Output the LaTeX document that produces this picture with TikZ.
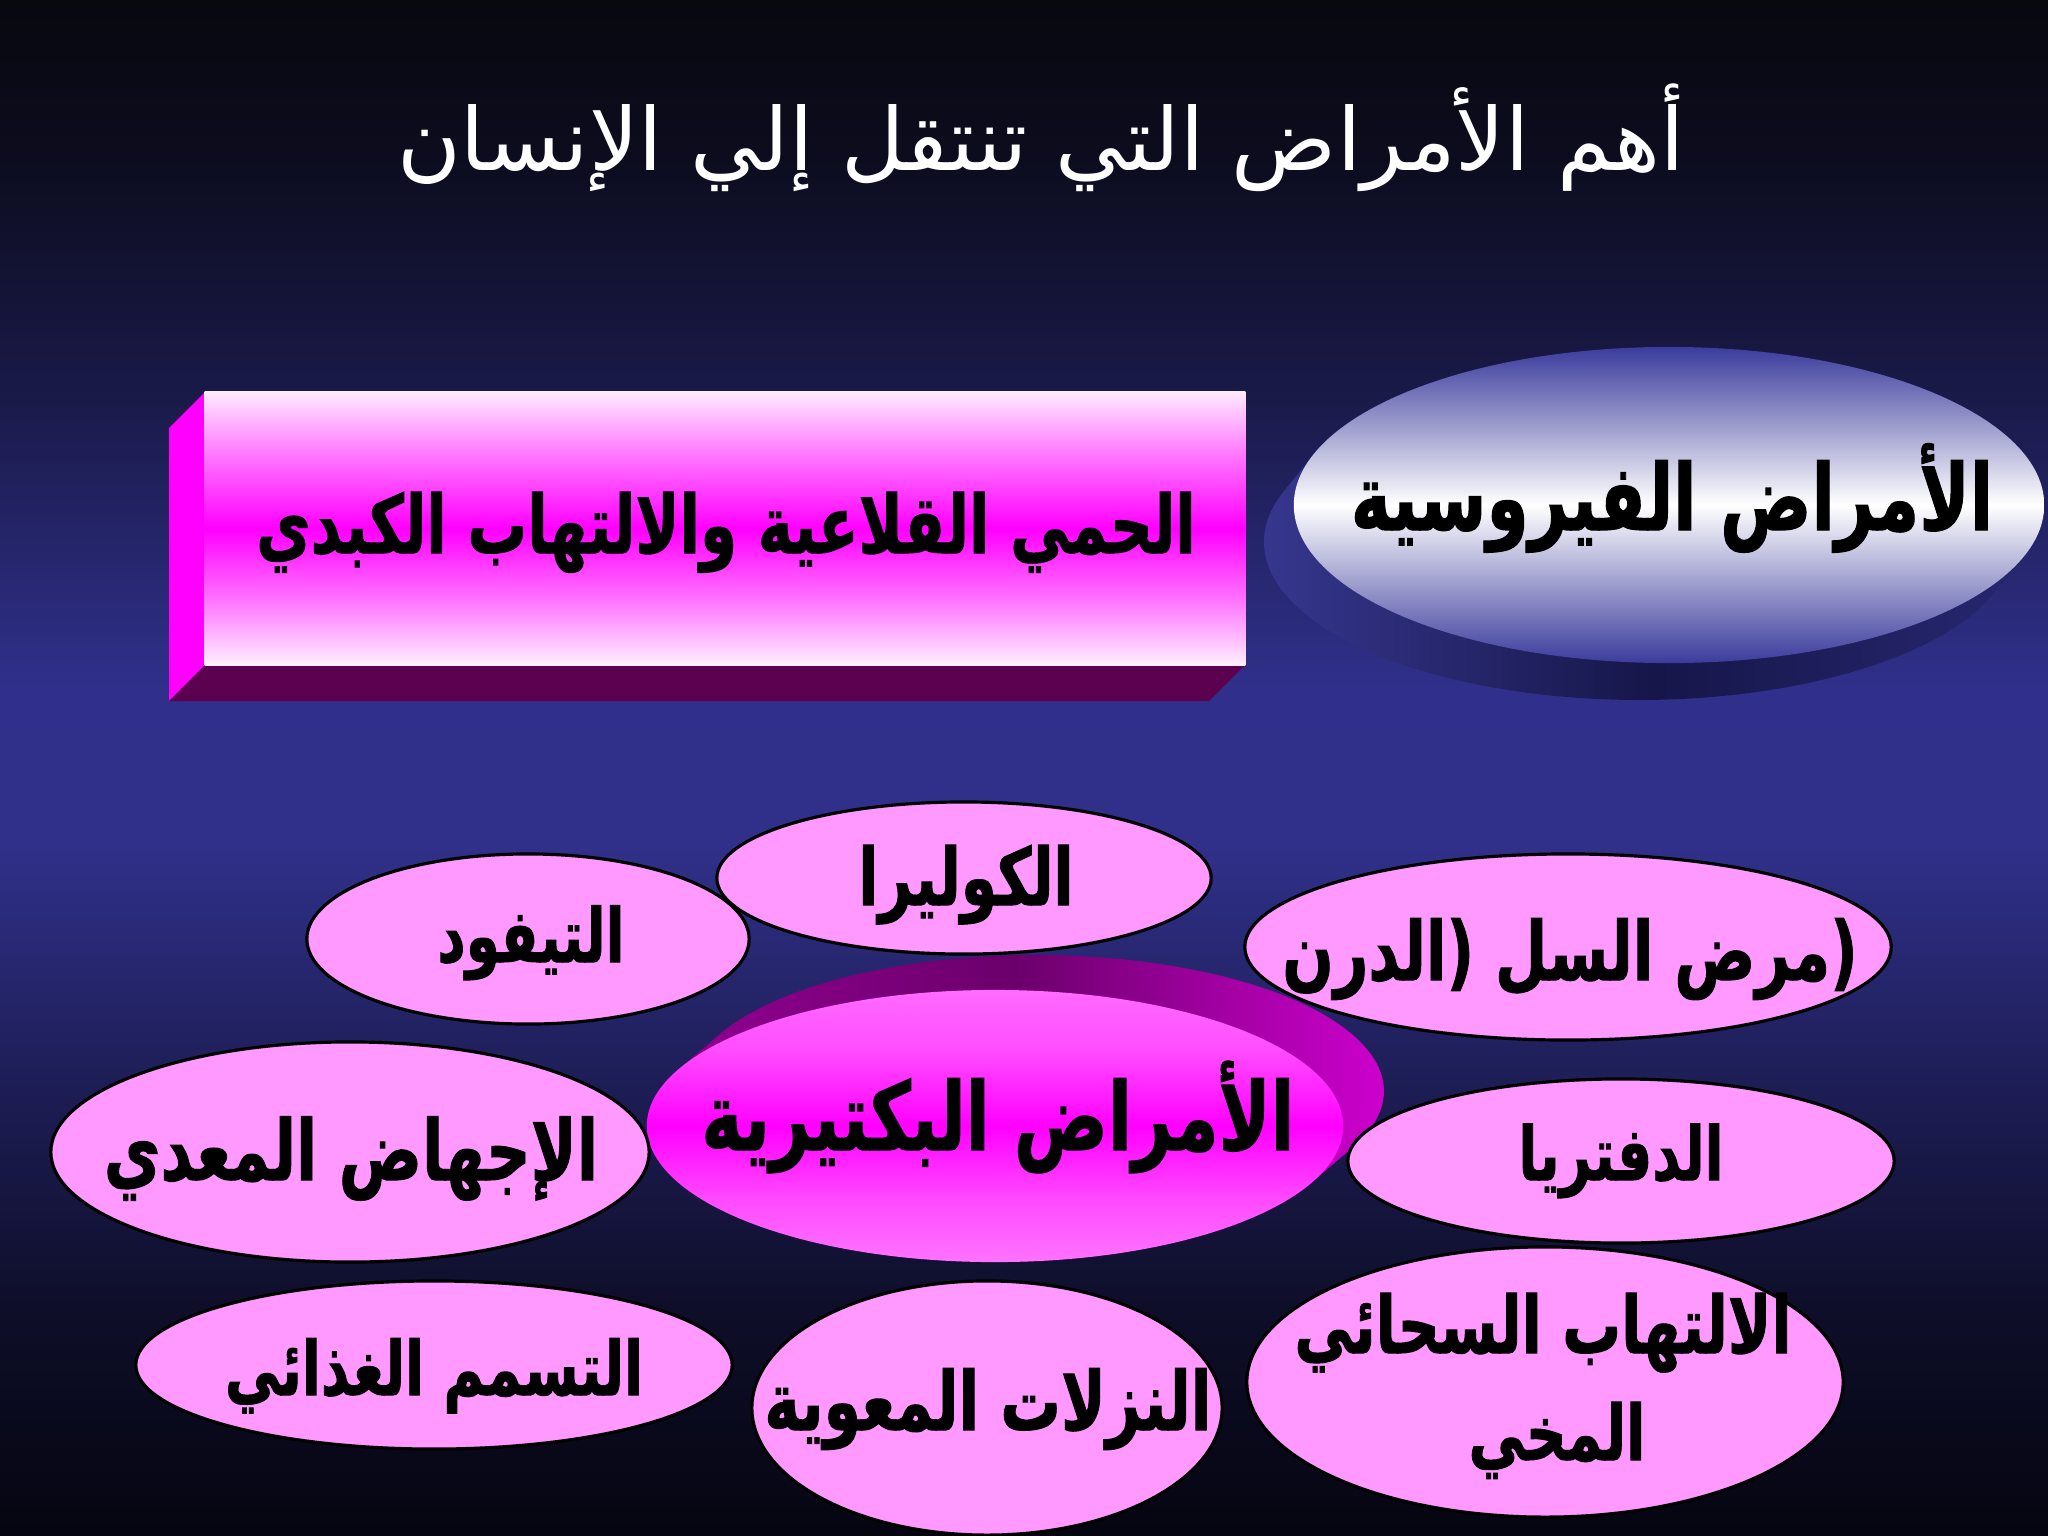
\documentclass[tikz,border=0pt]{standalone}
\usepackage{fontspec}
\usepackage{graphicx}
\TeXXeTstate=1
\newfontfamily\arabicfont[Script=Arabic, BoldFeatures={FakeBold=1.4}]{DejaVu Sans}
\usetikzlibrary{shapes.geometric}

\definecolor{pinkfill}{HTML}{FF99FF}
\definecolor{boxside}{HTML}{FF00FF}
\definecolor{boxbottom}{HTML}{5C0050}
\definecolor{bgA}{HTML}{050510}
\definecolor{bgB}{HTML}{0E0E2A}
\definecolor{bgC}{HTML}{1E1E58}
\definecolor{bgD}{HTML}{30308A}
\definecolor{bgE}{HTML}{30308C}
\definecolor{bgF}{HTML}{1A1A4A}
\definecolor{bgG}{HTML}{0C0C1E}
\definecolor{bgH}{HTML}{08080F}

\pgfdeclareverticalshading{bgsh}{100bp}{%
 color(0bp)=(bgA); color(25bp)=(bgA);
 color(32.5bp)=(bgB); color(40bp)=(bgC);
 color(47.5bp)=(bgD); color(52.5bp)=(bgE);
 color(62bp)=(bgF); color(70bp)=(bgG);
 color(75bp)=(bgH); color(100bp)=(bgH)}
\pgfdeclareverticalshading{boxsh}{100bp}{%
 color(0bp)=(white!94!magenta); color(25bp)=(white!94!magenta);
 color(37bp)=(white!45!magenta); color(50bp)=(magenta);
 color(63bp)=(white!45!magenta); color(75bp)=(white!92!magenta);
 color(100bp)=(white!92!magenta)}
\pgfdeclareverticalshading{bactsh}{100bp}{%
 color(0bp)=(white!45!magenta); color(25bp)=(white!45!magenta);
 color(36bp)=(white!30!magenta); color(50bp)=(magenta);
 color(64bp)=(white!30!magenta); color(75bp)=(white!42!magenta);
 color(100bp)=(white!42!magenta)}
\pgfdeclarehorizontalshading{bactrim}{100bp}{%
 color(0bp)=(magenta!60!black); color(25bp)=(magenta!60!black);
 color(50bp)=(magenta!42!black); color(75bp)=(magenta!85!black);
 color(100bp)=(magenta!85!black)}
\definecolor{vblue}{HTML}{3B3B9D}
\pgfdeclareverticalshading{virsh}{100bp}{%
 color(0bp)=(vblue); color(25bp)=(vblue);
 color(35bp)=(white!40!vblue); color(45bp)=(white!80!vblue);
 color(50bp)=(white); color(55bp)=(white!80!vblue);
 color(65bp)=(white!40!vblue); color(75bp)=(vblue); color(100bp)=(vblue)}
\definecolor{rimA}{HTML}{3A3A96}
\definecolor{rimB}{HTML}{16164A}
\definecolor{rimC}{HTML}{2A2A78}
\pgfdeclarehorizontalshading{virrim}{100bp}{%
 color(0bp)=(rimA); color(25bp)=(rimA); color(50bp)=(rimB);
 color(75bp)=(rimC); color(100bp)=(rimC)}

% #1 = width, #2 = text (with its own \beginR ... \endR)
\newcommand{\ARB}[2]{\scalebox{1}[1.35]{\resizebox{#1}{!}{\arabicfont\bfseries #2}}}

\tikzset{
 pinkell/.style={ellipse, draw=black, line width=0.9pt, fill=pinkfill, inner sep=0pt},
 lbl/.style={anchor=base, inner sep=0pt, text=black},
}

\begin{document}
\begin{tikzpicture}[x=0.01cm,y=-0.01cm]
\useasboundingbox (0,0) rectangle (2048,1536);
\shade[shading=bgsh] (0,0) rectangle (2048,1536);

% title
\node[anchor=base, inner sep=0pt, text=white] (title) at (1041,170)
 {\resizebox{12.87cm}{!}{\arabicfont\beginR أهم الأمراض التي تنتقل إلي الإنسان\endR}};

% 3D box
\fill[boxside] (205,392) -- (205,665) -- (169,701) -- (169,428) -- cycle;
\fill[boxbottom] (205,665) -- (1245,665) -- (1209,701) -- (169,701) -- cycle;
\node[rectangle, shade, shading=boxsh, minimum width=10.40cm, minimum height=2.73cm, inner sep=0pt] (boxface) at (725,528.5) {};
\node[lbl] (boxtext) at (726,553) {\ARB{9.39cm}{\beginR الحمي القلاعية والالتهاب الكبدي\endR}};

% viral disk
\shade[shading=virrim] (1993.9,593.0) arc[start angle=18.86, end angle=198.86, x radius=375, y radius=158]
 -- (1314.1,454.0) arc[start angle=198.86, end angle=378.86, x radius=375, y radius=158] -- cycle;
\node[ellipse, shade, shading=virsh, minimum width=7.50cm, minimum height=3.16cm, inner sep=0pt] (virface) at (1669,505) {};
\node[lbl] (virtext) at (1672,530) {\ARB{6.42cm}{\beginR الأمراض الفيروسية\endR}};

% bacterial disk
\shade[shading=bactrim] (719.5,1034.4) arc[start angle=204.6, end angle=384.6, x radius=348, y radius=136]
 -- (1311.5,1182.6) arc[start angle=24.6, end angle=204.6, x radius=348, y radius=136] -- cycle;
\node[ellipse, shade, shading=bactsh, minimum width=6.96cm, minimum height=2.72cm, inner sep=0pt] (bactface) at (995,1126) {};
\node[lbl] (bacttext) at (998,1150) {\ARB{5.93cm}{\beginR الأمراض البكتيرية\endR}};

% small ellipses
\node[pinkell, minimum width=4.94cm, minimum height=1.52cm] (chol) at (964,878) {};
\node[lbl] (choltext) at (966,905) {\ARB{2.15cm}{\beginR الكوليرا\endR}};

\node[pinkell, minimum width=4.42cm, minimum height=1.70cm] (typh) at (528,939) {};
\node[lbl] (typhtext) at (531,962) {\ARB{1.87cm}{\beginR التيفود\endR}};

\node[pinkell, minimum width=6.46cm, minimum height=1.86cm] (tb) at (1568,947) {};
\node[lbl] (tbtext) at (1570,980) {\ARB{5.75cm}{\beginR الدرن\endR(\ \beginR مرض السل\endR(}};

\node[pinkell, minimum width=5.98cm, minimum height=2.20cm] (abort) at (350,1152) {};
\node[lbl] (aborttext) at (351,1180) {\ARB{4.94cm}{\beginR الإجهاض المعدي\endR}};

\node[pinkell, minimum width=5.46cm, minimum height=1.64cm] (diph) at (1621,1161) {};
\node[lbl] (diphtext) at (1621,1180) {\ARB{2.05cm}{\beginR الدفتريا\endR}};

\node[pinkell, minimum width=5.96cm, minimum height=1.68cm] (food) at (434,1365) {};
\node[lbl] (foodtext) at (434,1395) {\ARB{4.18cm}{\beginR التسمم الغذائي\endR}};

\node[pinkell, minimum width=4.70cm, minimum height=2.54cm] (intest) at (987,1408) {};
\node[lbl] (intesttext) at (988,1430) {\ARB{4.47cm}{\beginR النزلات المعوية\endR}};

\node[pinkell, minimum width=5.96cm, minimum height=2.70cm] (mening) at (1545,1382) {};
\node[lbl] (meningtextA) at (1543,1353) {\ARB{4.97cm}{\beginR الالتهاب السحائي\endR}};
\node[lbl] (meningtextB) at (1557,1460) {\ARB{1.77cm}{\beginR المخي\endR}};
\end{tikzpicture}
\end{document}
